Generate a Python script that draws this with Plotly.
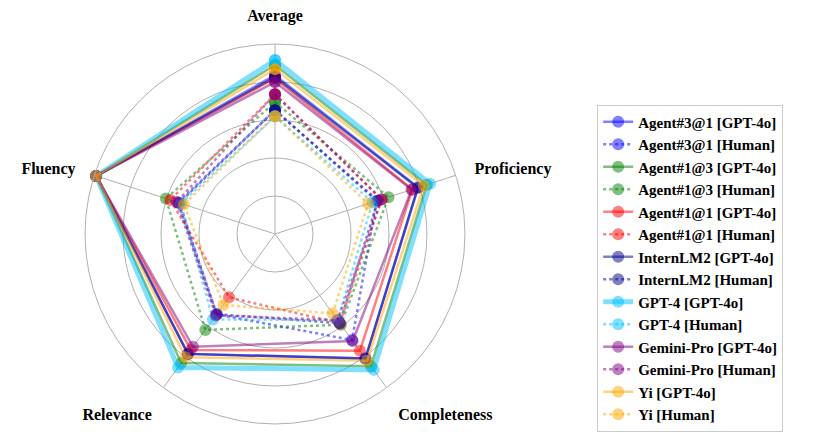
import plotly.graph_objects as go

# axes of the radar, clockwise from the top
categories = ["Average", "Proficiency", "Completeness", "Relevance", "Fluency"]

models = ["Agent#3@1", "Agent#1@3", "Agent#1@1", "InternLM2", "GPT-4", "Gemini-Pro", "Yi"]

# scores judged by GPT-4o (solid lines)
gpt4o_agent3_1 = [4.18, 3.96, 4.05, 3.90, 4.95]
gpt4o_agent1_3 = [4.45, 4.20, 4.30, 4.20, 4.95]
gpt4o_agent1_1 = [4.10, 3.80, 3.80, 3.77, 4.95]
gpt4o_internlm2 = [4.13, 3.95, 4.05, 3.90, 4.95]
gpt4o_gpt4 = [4.58, 4.29, 4.42, 4.34, 4.95]
gpt4o_gemini = [4.00, 3.78, 3.48, 3.67, 4.95]
gpt4o_yi = [4.34, 4.12, 4.12, 4.01, 4.95]

# scores judged by humans (dotted lines)
human_agent3_1 = [3.26, 2.81, 3.45, 2.61, 2.68]
human_agent1_3 = [3.47, 3.14, 2.95, 3.12, 3.02]
human_agent1_1 = [3.68, 2.95, 2.90, 2.06, 2.90]
human_internlm2 = [3.26, 2.85, 2.90, 2.61, 2.65]
human_gpt4 = [3.10, 2.70, 2.80, 2.78, 2.60]
human_gemini = [3.68, 2.95, 2.80, 2.65, 2.72]
human_yi = [3.10, 2.58, 2.58, 2.31, 2.52]

gpt4o_scores = [gpt4o_agent3_1, gpt4o_agent1_3, gpt4o_agent1_1, gpt4o_internlm2,
                gpt4o_gpt4, gpt4o_gemini, gpt4o_yi]
human_scores = [human_agent3_1, human_agent1_3, human_agent1_1, human_internlm2,
                human_gpt4, human_gemini, human_yi]

colors = ["rgba(0,0,255,0.5)", "rgba(0,128,0,0.5)", "rgba(255,0,0,0.5)",
          "rgba(0,0,139,0.5)", "rgba(0,191,255,0.5)", "rgba(128,0,128,0.5)",
          "rgba(255,165,0,0.5)"]

fig = go.Figure()
theta = categories + categories[:1]
for name, c, s, h in zip(models, colors, gpt4o_scores, human_scores):
    lw = 5 if name == "GPT-4" else 2.5
    fig.add_trace(go.Scatterpolar(
        r=s + s[:1], theta=theta, mode="lines+markers",
        name=name + " [GPT-4o]",
        line=dict(color=c, width=lw),
        marker=dict(color=c, size=12, line=dict(width=0))))
    fig.add_trace(go.Scatterpolar(
        r=h + h[:1], theta=theta, mode="lines+markers",
        name=name + " [Human]",
        line=dict(color=c, width=2.5, dash="dot"),
        marker=dict(color=c, size=12, line=dict(width=0))))

# page body adds an 8px offset, so the domain is shifted up/left a bit
fig.update_layout(
    width=831, height=437,
    margin=dict(l=0, r=0, t=0, b=0, autoexpand=False),
    paper_bgcolor="white",
    font=dict(family="Liberation Serif", color="black"),
    polar=dict(
        domain=dict(x=[0.0927, 0.5499], y=[0.048, 0.9176]),
        bgcolor="white",
        gridshape="circular",
        radialaxis=dict(range=[0, 5], dtick=1, showticklabels=False, ticks="",
                        showline=False, gridcolor="#b0b0b0", gridwidth=1),
        angularaxis=dict(direction="clockwise", rotation=90,
                         showline=True, linecolor="#b0b0b0", linewidth=1,
                         gridcolor="#b0b0b0", gridwidth=1,
                         ticks="outside", ticklen=16, tickcolor="rgba(0,0,0,0)",
                         tickfont=dict(size=16, family="Liberation Serif", weight="bold")),
    ),
    legend=dict(x=0.709, y=0.405, xanchor="left", yanchor="middle",
                bordercolor="#cccccc", borderwidth=1, bgcolor="white",
                font=dict(size=15, family="Liberation Serif", weight="bold"),
                tracegroupgap=0),
)

fig.write_html("out.html")
